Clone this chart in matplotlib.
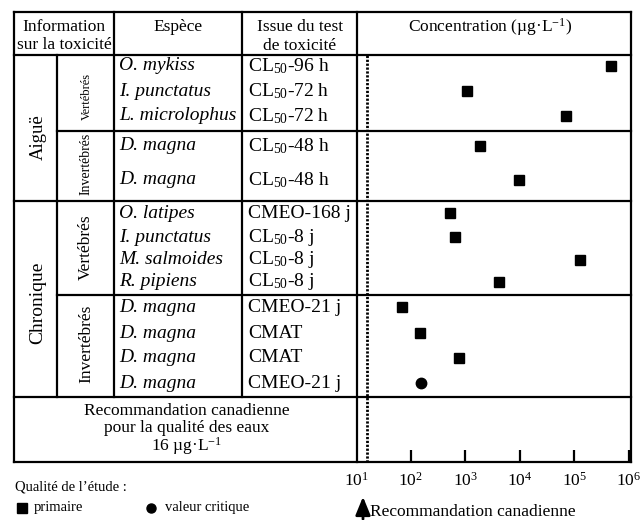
import numpy as np
import matplotlib.pyplot as plt

plt.rcParams['font.family'] = ['Liberation Serif', 'DejaVu Serif']
plt.rcParams['mathtext.fontset'] = 'custom'
plt.rcParams['mathtext.rm'] = 'Liberation Serif'
plt.rcParams['mathtext.it'] = 'Liberation Serif:italic'

# data
species = ['O. mykiss', 'I. punctatus', 'L. microlophus', 'D. magna', 'D. magna',
           'O. latipes', 'I. punctatus', 'M. salmoides', 'R. pipiens',
           'D. magna', 'D. magna', 'D. magna', 'D. magna']
tests = ['CL$_{\\mathregular{50}}$-96 h', 'CL$_{\\mathregular{50}}$-72 h', 'CL$_{\\mathregular{50}}$-72 h',
         'CL$_{\\mathregular{50}}$-48 h', 'CL$_{\\mathregular{50}}$-48 h',
         'CMEO-168 j', 'CL$_{\\mathregular{50}}$-8 j', 'CL$_{\\mathregular{50}}$-8 j', 'CL$_{\\mathregular{50}}$-8 j',
         'CMEO-21 j', 'CMAT', 'CMAT', 'CMEO-21 j']
conc = [460000, 1100, 69000, 1860, 9800,
        525, 660, 126000, 4200,
        69, 150, 760, 156]
quality = ['primaire'] * 12 + ['critique']
guideline = 16

# row layout (pixel rows of the table)
row_y = [66, 91, 116, 146, 180, 213, 237, 260, 282, 307, 333, 358, 383]

W, H = 643, 520
fig = plt.figure(figsize=(6.43, 5.20), dpi=100)
bg = fig.add_axes([0, 0, 1, 1])
bg.set_xlim(0, W)
bg.set_ylim(H, 0)
bg.axis('off')

lw = 1.6
# horizontal lines
for y, x0, x1 in [(12, 14, 631), (55, 14, 631), (131, 57, 631), (201, 14, 631),
                  (295, 57, 631), (397, 14, 631), (462, 14, 631)]:
    bg.plot([x0, x1], [y, y], color='k', lw=lw, solid_capstyle='projecting')
# vertical lines
for x, y0, y1 in [(14, 12, 462), (57, 55, 397), (114, 12, 397), (242, 12, 397),
                  (357, 12, 462), (631, 12, 462)]:
    bg.plot([x, x], [y0, y1], color='k', lw=lw, solid_capstyle='projecting')

# header
bg.text(64, 27, 'Information', ha='center', va='center', fontsize=12.5)
bg.text(64, 45, 'sur la toxicité', ha='center', va='center', fontsize=12.5)
bg.text(178, 27, 'Espèce', ha='center', va='center', fontsize=12.5)
bg.text(300, 27, 'Issue du test', ha='center', va='center', fontsize=12.5)
bg.text(300, 46, 'de toxicité', ha='center', va='center', fontsize=12.5)
bg.text(490, 27, 'Concentration (µg·L$^{\\mathregular{-1}}$)', ha='center', va='center', fontsize=12.5)

# group labels
bg.text(38, 137, 'Aiguë', rotation=90, ha='center', va='center', fontsize=13.5)
bg.text(38, 303, 'Chronique', rotation=90, ha='center', va='center', fontsize=14)
bg.text(87, 96, 'Vertébrés', rotation=90, ha='center', va='center', fontsize=9)
bg.text(86, 164, 'Invertébrés', rotation=90, ha='center', va='center', fontsize=10)
bg.text(86, 247, 'Vertébrés', rotation=90, ha='center', va='center', fontsize=12.5)
bg.text(86, 344, 'Invertébrés', rotation=90, ha='center', va='center', fontsize=12.5)

for y, sp, t in zip(row_y, species, tests):
    bg.text(119, y, sp, style='italic', ha='left', va='center', fontsize=14)
    bg.text(248, y, t, ha='left', va='center', fontsize=14)

# recommendation row
bg.text(187, 411, 'Recommandation canadienne', ha='center', va='center', fontsize=12.5)
bg.text(187, 428, 'pour la qualité des eaux', ha='center', va='center', fontsize=12.5)
bg.text(187, 446, '16 µg·L$^{\\mathregular{-1}}$', ha='center', va='center', fontsize=12.5)

# legend
bg.text(15, 487, 'Qualité de l\u2019étude :', ha='left', va='center', fontsize=10.5)
bg.plot(22, 508, 's', color='k', ms=6.5)
bg.text(34, 508, 'primaire', ha='left', va='center', fontsize=10.5)
bg.plot(151, 508, 'o', color='k', ms=6.5)
bg.text(165, 508, 'valeur critique', ha='left', va='center', fontsize=10.5)

# guideline arrow
bg.annotate('', xy=(363, 494), xytext=(363, 522),
            arrowprops=dict(arrowstyle='-|>,head_width=0.45,head_length=1.1', color='k', lw=2))
bg.text(370, 512, 'Recommandation canadienne', ha='left', va='center', fontsize=12.5)

# concentration axis
ax = fig.add_axes([356 / W, (H - 462) / H, (629 - 356) / W, (462 - 55) / H])
ax.patch.set_visible(False)
ax.set_xscale('log')
ax.set_xlim(10, 1e6)
ax.set_ylim(462, 55)
for s in ax.spines.values():
    s.set_visible(False)
ax.set_yticks([])
ax.minorticks_off()
ax.set_xticks([1e1, 1e2, 1e3, 1e4, 1e5, 1e6])
ax.set_xticklabels(['10$^{\\mathregular{%d}}$' % k for k in range(1, 7)], fontsize=12.5)
ax.tick_params(axis='x', direction='in', length=8.5, width=1.6, pad=7)
ax.get_xticklines()[0].set_visible(False)

ax.axvline(guideline, color='k', lw=2, ls=(0, (0.8, 0.6)))

for c, y, q in zip(conc, row_y, quality):
    ax.plot(c, y, 's' if q == 'primaire' else 'o', color='k', ms=7.5, clip_on=False)

fig.savefig('out.png', dpi=100)
